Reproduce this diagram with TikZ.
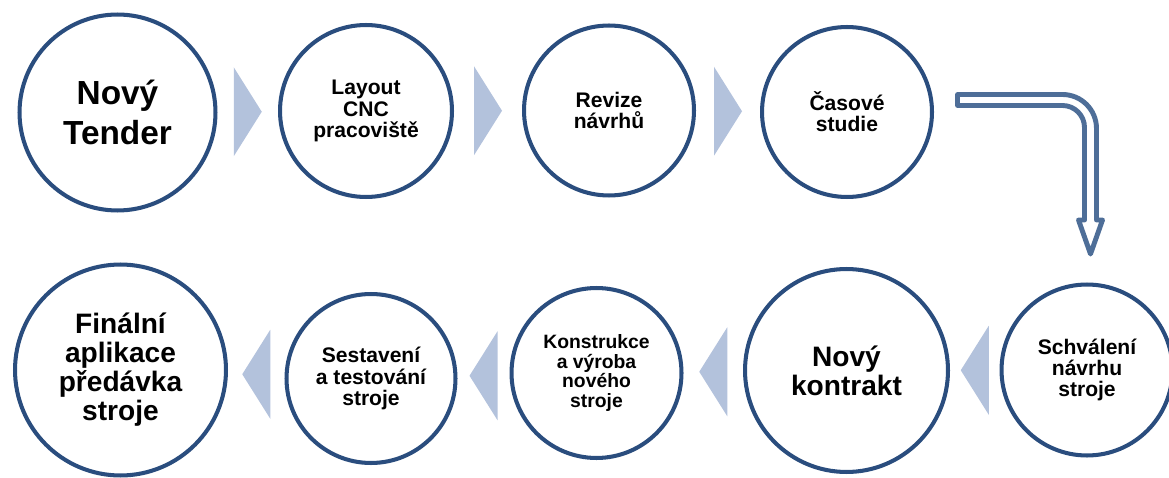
\documentclass[tikz,border=0pt]{standalone}
\usepackage{fontspec}
\setmainfont{Liberation Sans}
\usetikzlibrary{calc}

\definecolor{ringblue}{HTML}{2A4D7E}
\definecolor{chevronblue}{HTML}{B3C2DC}
\definecolor{arrowblue}{HTML}{4E6E98}

\tikzset{
  stage/.style={circle, draw=ringblue, line width=2.3pt, align=center, inner sep=0pt,
    minimum size=3.4cm, font=\bfseries\fontsize{12}{12}\selectfont},
  big stage/.style={stage, minimum size=#1, font=\bfseries\fontsize{16}{16.5}\selectfont},
  chevron/.style={fill=chevronblue},
}

\begin{document}
\begin{tikzpicture}[x=0.02cm, y=0.02cm]
  \useasboundingbox (0,0) rectangle (1169,477);

  % Upper row of stages
  \node[big stage=3.92cm, font=\bfseries\fontsize{19}{23}\selectfont] (tender) at (117.5,364.5) {Nový\\Tender};
  \node[stage, minimum size=3.44cm] (layout) at (366,366) {Layout\\CNC\\pracoviště};
  \node[stage] (revize) at (609,366.5) {Revize\\návrhů};
  \node[stage] (studie) at (847,365) {Časové\\studie};

  % Lower row of stages, read from right to left
  \node[stage, minimum size=3.42cm] (schvaleni) at (1087,107) {Schválení\\návrhu\\stroje};
  \node[big stage=4.06cm] (kontrakt) at (846.5,106.5) {Nový\\kontrakt};
  \node[stage, font=\bfseries\fontsize{11}{11.2}\selectfont] (konstrukce) at (596.5,104) {Konstrukce\\a výroba\\nového\\stroje};
  \node[stage, minimum size=3.38cm] (sestaveni) at (371,98.5) {Sestavení\\a testování\\stroje};
  \node[big stage=4.22cm] (final) at (120.5,107) {Finální\\aplikace\\předávka\\stroje};

  % Chevrons between the stages
  \foreach \a/\b in {tender/layout, layout/revize, revize/studie} {
      \fill[chevron] ($(\a.east)!0.5!(\b.west)$) ++(-14,44.5) -- ++(28,-44.5) -- ++(-28,-44.5) -- cycle;
    }
  \foreach \a/\b in {schvaleni/kontrakt, kontrakt/konstrukce, konstrukce/sestaveni, sestaveni/final} {
      \fill[chevron] ($(\a.west)!0.5!(\b.east)$) ++(14,44.5) -- ++(-28,-44.5) -- ++(28,-44.5) -- cycle;
    }

  % Bent outline arrow down to the lower row
  \draw[arrowblue, line width=2.8pt, line join=round]
    (957.5,382.5) -- (1062.5,382.5) arc[start angle=90, end angle=0, radius=0.68cm]
    -- (1096.5,257) -- (1102.5,257) -- (1090.5,223) -- (1078.5,257) -- (1084.5,257)
    -- (1084.5,349.5) arc[start angle=0, end angle=90, radius=0.44cm]
    -- (957.5,371.5) -- cycle;

\end{tikzpicture}
\end{document}
